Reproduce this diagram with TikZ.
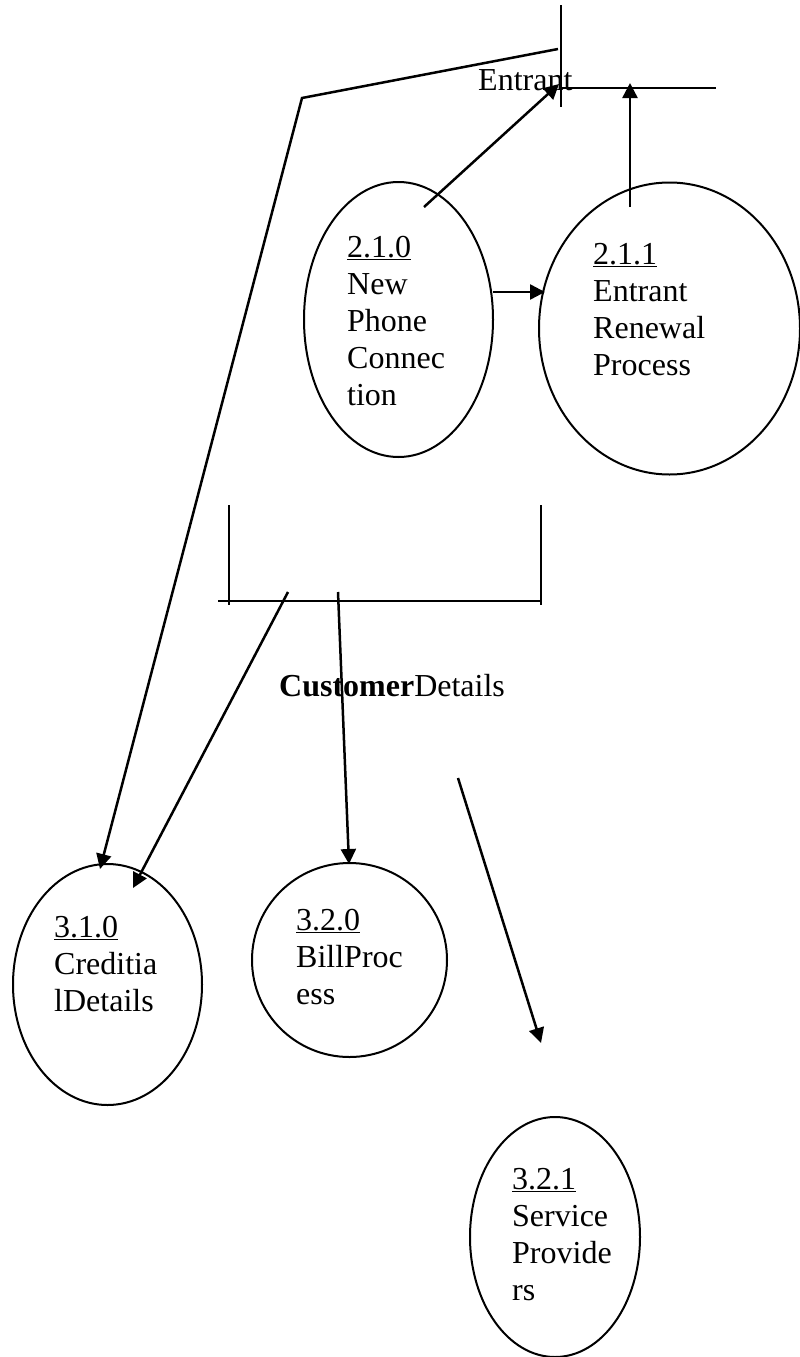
\documentclass[tikz,border=0pt]{standalone}
\usepackage{fontspec}
\setmainfont{Liberation Serif}
\usetikzlibrary{shapes.geometric,arrows.meta}

\begin{document}
\begin{tikzpicture}[x=1pt,y=-1pt,
	proc/.style={shape=ellipse,draw=black,line width=2pt,inner sep=0pt},
	txt/.style={anchor=base west,align=left,inner sep=0pt,font=\fontsize{32}{36.8}\selectfont},
	flow/.style={-{Triangle[length=15pt,width=15pt]},line width=2.5pt},
	store/.style={line width=2pt}]
	
	\useasboundingbox (0,0) rectangle (800,1357);
	
	% processes
	\node[proc,minimum width=189pt,minimum height=275pt] (p210) at (398.5,319.5) {};
	\node[proc,minimum width=261pt,minimum height=292pt] (p211) at (669.5,328.5) {};
	\node[proc,minimum width=189pt,minimum height=241pt] (p310) at (107.5,984.5) {};
	\node[proc,minimum width=195pt,minimum height=194pt] (p320) at (349.5,960) {};
	\node[proc,minimum width=170pt,minimum height=240pt] (p321) at (555,1237) {};
	
	% labels (placed at the baseline of their last line)
	\node[txt] (t210) at (347,405) {\underline{2.1.0}\\New\\Phone\\Connec\\tion};
	\node[txt] (t211) at (593,375) {\underline{2.1.1}\\Entrant\\Renewal\\Process};
	\node[txt] (t310) at (54,1011) {\underline{3.1.0}\\Creditia\\lDetails};
	\node[txt] (t320) at (296,1004) {\underline{3.2.0}\\BillProc\\ess};
	\node[txt] (t321) at (512,1300) {\underline{3.2.1}\\Service\\Provide\\rs};
	
	% data stores
	\coordinate (ent_top) at (561,5);
	\coordinate (ent_bot) at (561,107);
	\coordinate (ent_left) at (561,88);
	\coordinate (ent_right) at (716,88);
	\draw[store] (ent_top) -- (ent_bot);
	\draw[store] (ent_left) -- (ent_right);
	\node[txt] (entrant) at (478,90) {Entrant};
	
	\coordinate (cus_lt) at (229,505);
	\coordinate (cus_lb) at (229,605);
	\coordinate (cus_rt) at (541,505);
	\coordinate (cus_rb) at (541,605);
	\coordinate (cus_l) at (218,600.5);
	\coordinate (cus_r) at (541,600.5);
	\draw[store] (cus_lt) -- (cus_lb);
	\draw[store] (cus_rt) -- (cus_rb);
	\draw[store] (cus_l) -- (cus_r);
	\node[txt] (customer) at (279,696) {\textbf{Customer}Details};
	
	% flows
	\coordinate (a1) at (558,49);
	\coordinate (a2) at (302,98);
	\coordinate (a3) at (100,869);
	\draw[flow] (a1) -- (a2) -- (a3);
	
	\coordinate (b1) at (424,207);
	\coordinate (b2) at (559,84);
	\draw[flow] (b1) -- (b2);
	
	\coordinate (c1) at (630,207);
	\coordinate (c2) at (630,83);
	\draw[flow] (c1) -- (c2);
	
	\coordinate (d1) at (493,292);
	\coordinate (d2) at (545,292);
	\draw[flow] (d1) -- (d2);
	
	\coordinate (e1) at (288,592);
	\coordinate (e2) at (133,888);
	\draw[flow] (e1) -- (e2);
	
	\coordinate (f1) at (338,592);
	\coordinate (f2) at (349,864);
	\draw[flow] (f1) -- (f2);
	
	\coordinate (g1) at (458,778);
	\coordinate (g2) at (541,1043);
	\draw[flow] (g1) -- (g2);
	
\end{tikzpicture}
\end{document}
